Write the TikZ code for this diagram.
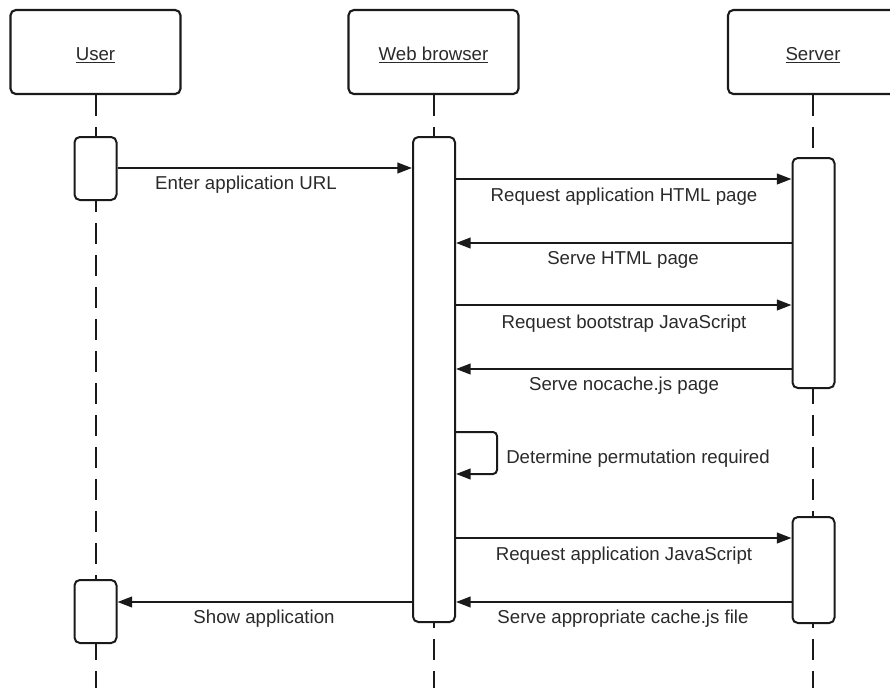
\documentclass[tikz,border=0pt]{standalone}
\usepackage{fontspec}
\setmainfont{Liberation Sans}
\usetikzlibrary{arrows.meta,calc}
\definecolor{ink}{HTML}{1A1A1A}
\definecolor{txt}{HTML}{2A2A2A}
\begin{document}
\begin{tikzpicture}[x=0.75pt,y=-0.75pt,
  every node/.style={font=\fontsize{14}{17}\selectfont, text=txt},
  headbox/.style={draw=ink, line width=1.6pt, rounded corners=4pt, fill=white,
    minimum width=127.5pt, minimum height=63pt, inner sep=0pt},
  actbox/.style={draw=ink, line width=1.5pt, rounded corners=4pt, fill=white,
    minimum width=31.5pt, inner sep=0pt},
  lifeline/.style={draw=ink, line width=1.5pt, dash pattern=on 16pt off 8pt},
  msg/.style={draw=ink, line width=1.5pt, -{Triangle[length=11pt,width=8pt]}},
  lbl/.style={anchor=base, inner sep=0pt}
]
\useasboundingbox (0,0) rectangle (890,687);
\clip (0,0) rectangle (890,687);

% header boxes
\node[headbox] (user) at (95.5,52) {};
\node[headbox] (web) at (433.5,52) {};
\node[headbox] (srv) at (813,52) {};
\node[lbl] (userT) at (95.5,60) {\underline{User}};
\node[lbl] (webT) at (433.5,60) {\underline{Web browser}};
\node[lbl] (srvT) at (813,60) {\underline{Server}};

% lifelines
\coordinate (userEnd) at (user.south |- 0,690);
\coordinate (webEnd) at (web.south |- 0,690);
\coordinate (srvEnd) at (srv.south |- 0,690);
\draw[lifeline] (user.south) -- (userEnd);
\draw[lifeline] (web.south) -- (webEnd);
\draw[lifeline] (srv.south) -- (srvEnd);

% activations
\node[actbox, minimum height=47.25pt] (ua1) at (95.5,168.5) {};
\node[actbox, minimum height=363.75pt] (ba) at (434,379.5) {};
\node[actbox, minimum height=172.5pt] (sa1) at (813.5,273) {};
\node[actbox, minimum height=79.5pt] (sa2) at (813.5,570) {};
\node[actbox, minimum height=47.25pt] (ua2) at (95.5,611.5) {};

% messages
\draw[msg] (ua1.east |- 0,168) -- (ba.west |- 0,168);
\node[lbl] (l1) at (246,189) {Enter application URL};

\draw[msg] (ba.east |- 0,179) -- (sa1.west |- 0,179);
\node[lbl] (l2) at (624,201) {Request application HTML page};

\draw[msg] (sa1.west |- 0,243) -- (ba.east |- 0,243);
\node[lbl] (l3) at (623,264) {Serve HTML page};

\draw[msg] (ba.east |- 0,305) -- (sa1.west |- 0,305);
\node[lbl] (l4) at (624,328) {Request bootstrap JavaScript};

\draw[msg] (sa1.west |- 0,369) -- (ba.east |- 0,369);
\node[lbl] (l5) at (624,390) {Serve nocache.js page};

% self message
\coordinate (loopA) at (497,432);
\coordinate (loopB) at (497,474);
\draw[msg, rounded corners=3pt] (ba.east |- loopA) -- (loopA) -- (loopB) -- (ba.east |- loopB);
\node[lbl, anchor=base west] (l6) at (506,463) {Determine permutation required};

\draw[msg] (ba.east |- 0,538) -- (sa2.west |- 0,538);
\node[lbl] (l7) at (624,560) {Request application JavaScript};

\draw[msg] (sa2.west |- 0,602) -- (ba.east |- 0,602);
\node[lbl] (l8) at (623,623) {Serve appropriate cache.js file};

\draw[msg] (ba.west |- 0,602) -- (ua2.east |- 0,602);
\node[lbl] (l9) at (264,623) {Show application};
\end{tikzpicture}
\end{document}
